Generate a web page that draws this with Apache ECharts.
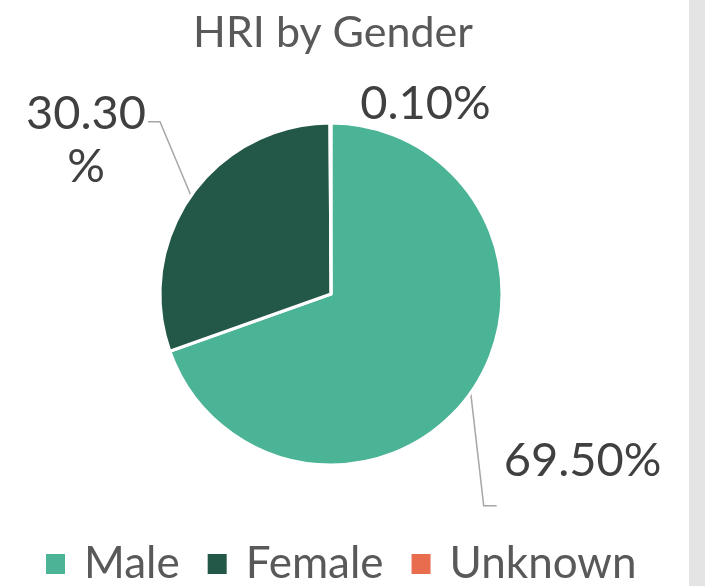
<!DOCTYPE html>
<html>
<head>
<meta charset="utf-8">
<script src="https://cdn.jsdelivr.net/npm/echarts@6/dist/echarts.min.js"></script>
<style>
    html, body {
        margin: 0;
        padding: 0;
        background: #fff;
    }
    #chart {
        width: 705px;
        height: 586px;
    }
    .side-bar {
        position: absolute;
        left: 689px;
        top: 0;
        width: 16px;
        height: 586px;
        background: #e4e4e4;
    }
</style>
</head>
<body>
<div id="chart"></div>
<div class="side-bar"></div>
<script>
var categories = ['Male', 'Female', 'Unknown'];
var shares = [69.5, 30.3, 0.1];
var colors = ['#4bb396', '#235848', '#e86c4e'];

// leader line bends, relative to the point on the pie edge
var leaders = [
    {dx: 13, dy: 113, h: 13, lx: 7, ly: -45, align: 'left'},
    {dx: -31, dy: -74, h: -12, lx: -62, ly: 19, align: 'center'},
    {dx: 3, dy: 14, h: 11, lx: 81, ly: -33, align: 'center', sx: 0, sy: 27}
];

var myChart = echarts.init(document.getElementById('chart'));

var option = {
    animation: false,
    color: colors,
    title: {
        text: 'HRI by Gender',
        left: 328,
        top: 7,
        textAlign: 'center',
        textStyle: {
            fontFamily: 'Lato',
            fontWeight: 'normal',
            fontSize: 43,
            color: '#595959'
        }
    },
    legend: {
        data: categories,
        bottom: 0,
        left: 44,
        padding: 0,
        itemWidth: 21,
        itemHeight: 22,
        itemGap: 26,
        icon: 'rect',
        textStyle: {
            fontFamily: 'Lato',
            fontSize: 44,
            lineHeight: 44,
            color: '#595959',
            padding: [0, 0, 0, 13]
        }
    },
    series: [{
        type: 'pie',
        center: [331, 294],
        radius: 171,
        startAngle: 90,
        clockwise: true,
        itemStyle: {
            borderColor: '#fff',
            borderWidth: 3
        },
        label: {
            show: true,
            position: 'outside',
            fontFamily: 'Lato',
            fontSize: 47,
            lineHeight: 53,
            color: '#404040',
            formatter: function (p) {
                var s = p.value.toFixed(2) + '%';
                return p.dataIndex === 1 ? s.replace('%', '\n%') : s;
            }
        },
        labelLine: {
            show: true,
            lineStyle: {color: '#a6a6a6', width: 1.5}
        },
        labelLayout: function (params) {
            var l = leaders[params.dataIndex];
            var p0 = params.labelLinePoints[0];
            var start = [p0[0] + (l.sx || 0), p0[1] + (l.sy || 0)];
            var bend = [p0[0] + l.dx, p0[1] + l.dy];
            var end = [bend[0] + l.h, bend[1]];
            return {
                x: end[0] + l.lx,
                y: end[1] + l.ly,
                align: l.align,
                verticalAlign: 'middle',
                labelLinePoints: [start, bend, end]
            };
        },
        data: categories.map(function (name, i) {
            return {name: name, value: shares[i]};
        })
    }]
};
myChart.setOption(option);
</script>
</body>
</html>
